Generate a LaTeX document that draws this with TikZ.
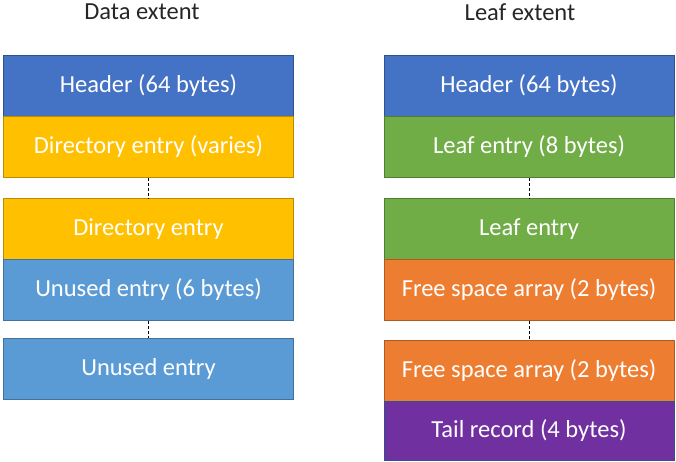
\documentclass[tikz,border=0pt]{standalone}
\usepackage{fontspec}
\setmainfont{Carlito}
\definecolor{hdrfill}{HTML}{4472C4}\definecolor{hdrline}{HTML}{2F528F}
\definecolor{dirfill}{HTML}{FFC000}\definecolor{dirline}{HTML}{BC8C00}
\definecolor{unfill}{HTML}{5B9BD5}\definecolor{unline}{HTML}{41719C}
\definecolor{leaffill}{HTML}{70AD47}\definecolor{leafline}{HTML}{507E32}
\definecolor{freefill}{HTML}{ED7D31}\definecolor{freeline}{HTML}{AE5A21}
\definecolor{tailfill}{HTML}{7030A0}\definecolor{tailline}{HTML}{2F528F}
\begin{document}
\begin{tikzpicture}[x=1pt,y=-1pt,
  blk/.style={draw=#1line,fill=#1fill,line width=0.9pt,minimum width=290pt,minimum height=61pt,
    inner sep=0pt,text=white,font=\fontsize{24.5}{28}\selectfont,anchor=north},
  ttl/.style={font=\fontsize{24.5}{28}\selectfont,text=black!85},
  gap/.style={draw=black,line width=0.9pt,dash pattern=on 3pt off 2pt}]
\useasboundingbox (0,0) rectangle (676,461);
% Data extent column
\node[ttl] (dtitle) at (142,12) {Data extent};
\node[blk=hdr]  (dh)  at (148.5,55)  {Header (64 bytes)};
\node[blk=dir]  (dd1) at (148.5,116) {Directory entry (varies)};
\node[blk=dir]  (dd2) at (148.5,198) {Directory entry};
\node[blk=un]   (du1) at (148.5,259) {Unused entry (6 bytes)};
\node[blk=un]   (du2) at (148.5,338) {Unused entry};
\draw[gap] (dd1.south) -- (dd2.north);
\draw[gap] (du1.south) -- (du2.north);
% Leaf extent column
\node[ttl] (ltitle) at (520,12) {Leaf extent};
\node[blk=hdr]  (lh)  at (529,55)  {Header (64 bytes)};
\node[blk=leaf] (ll1) at (529,116) {Leaf entry (8 bytes)};
\node[blk=leaf] (ll2) at (529,198) {Leaf entry};
\node[blk=free] (lf1) at (529,259) {Free space array (2 bytes)};
\node[blk=free] (lf2) at (529,340) {Free space array (2 bytes)};
\node[blk=tail,minimum height=59pt] (lt) at (529,401) {Tail record (4 bytes)};
\draw[gap] (ll1.south) -- (ll2.north);
\draw[gap] (lf1.south) -- (lf2.north);
\end{tikzpicture}
\end{document}
